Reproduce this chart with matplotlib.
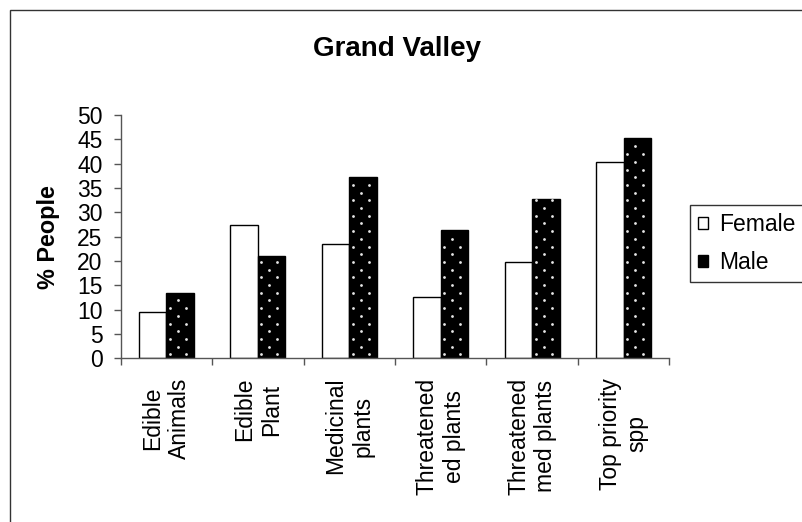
import numpy as np
import matplotlib
matplotlib.use("Agg")
import matplotlib.pyplot as plt
from matplotlib.patches import Rectangle

plt.rcParams['font.family'] = ['Liberation Sans', 'DejaVu Sans']

categories = ["Edible\nAnimals", "Edible\nPlant", "Medicinal\nplants",
              "Threatened\ned plants", "Threatened\nmed plants", "Top priority\nspp"]
female = [9.5, 27.3, 23.5, 12.5, 19.7, 40.3]
male = [13.4, 21.0, 37.2, 26.3, 32.7, 45.2]
yticks = list(range(0, 55, 5))

W, H = 802, 522
fig = plt.figure(figsize=(W / 100, H / 100), dpi=100)
fig.patch.set_facecolor('white')

# chart-area border (extends past right/bottom edge)
fig.patches.append(Rectangle((10 / W, -0.1), 1.2, 1 - 10 / H + 0.1,
                             transform=fig.transFigure, fill=False,
                             edgecolor='#333333', linewidth=1.0))

ax = fig.add_axes([120.7 / W, 1 - 358.3 / H, (669.3 - 120.7) / W, (358.3 - 115) / H])
ax.set_facecolor('none')

x = np.arange(len(categories))
bw = 0.3
bf = ax.bar(x - bw / 2, female, bw, color='white', edgecolor='black', linewidth=1.0,
            label='Female', zorder=2)
bm = ax.bar(x + bw / 2, male, bw, color='black', edgecolor='black', linewidth=1.0,
            label='Male', zorder=2)

ax.set_xlim(-0.5, len(categories) - 0.5)
ax.set_ylim(0, 50)

# dotted texture on male bars (generated from bar geometry, in pixels)
for rect in bm:
    (x0, y0), (x1, y1) = ax.transData.transform(
        [(rect.get_x(), rect.get_y()), (rect.get_x() + rect.get_width(), rect.get_height())])
    pts = []
    rows = np.arange(y0 + 4, y1 - 1, 7.7)
    for i, yy in enumerate(rows):
        start = x0 + 3.5 + (8 if i % 2 else 0)
        for xx in np.arange(start, x1 - 1, 16):
            pts.append((xx, yy))
    if pts:
        dp = ax.transData.inverted().transform(np.array(pts))
        sc = ax.scatter(dp[:, 0], dp[:, 1], s=4.0, c='#e6e6e6', linewidths=0,
                        zorder=3)
        sc.set_clip_path(rect)

for s in ['top', 'right']:
    ax.spines[s].set_visible(False)
for s in ['left', 'bottom']:
    ax.spines[s].set_color('#555555')
    ax.spines[s].set_linewidth(1.0)

ax.set_yticks(yticks)
ax.set_yticklabels([str(v) for v in yticks], fontsize=16.5)
ax.tick_params(axis='y', direction='out', length=5, width=1.0, color='#555555', pad=8)

ax.set_xticks(x)
ax.set_xticklabels(categories, rotation=90, fontsize=16.5, va='top', ha='center',
                   multialignment='center')
ax.tick_params(axis='x', which='major', length=0, pad=14)
ax.set_xticks(np.arange(-0.5, len(categories), 1.0), minor=True)
ax.tick_params(axis='x', which='minor', direction='out', length=5, width=1.0, color='#555555')

fig.text(49 / W, 1 - 237 / H, '% People', rotation=90, fontsize=16.8, fontweight='bold',
         ha='center', va='center')
fig.text(397 / W, 1 - 49 / H, 'Grand Valley', fontsize=20, fontweight='bold',
         ha='center', va='center')

leg = fig.legend(handles=[bf, bm], labels=['Female', 'Male'], loc='upper left',
                 bbox_to_anchor=(690 / W, 1 - 205 / H), borderaxespad=0,
                 fontsize=16.5, fancybox=False, edgecolor='#333333', framealpha=1,
                 handlelength=0.45, handleheight=0.45, handletextpad=0.45,
                 borderpad=0.35, labelspacing=0.65)
leg.get_frame().set_linewidth(1.0)

fig.savefig('out.png', dpi=100)
